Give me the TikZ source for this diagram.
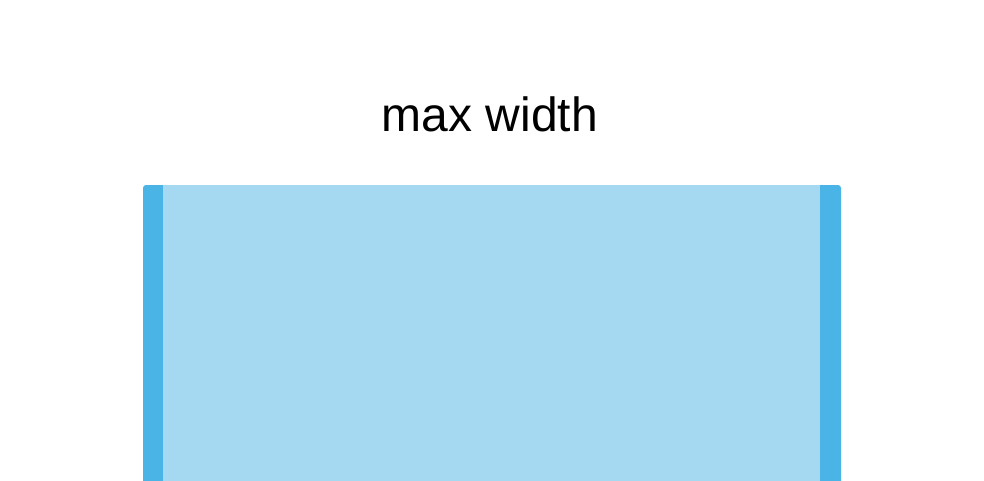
\documentclass[tikz,border=0pt]{standalone}
\usepackage{fontspec}
\setmainfont{Liberation Sans}
\definecolor{stripblue}{HTML}{4BB4E6}
\definecolor{fillblue}{HTML}{A5D9F1}
\begin{document}
\begin{tikzpicture}[x=1pt,y=1pt,
  titletext/.style={font=\fontsize{48}{58}\selectfont, text=black, inner sep=0pt, anchor=base}]
\useasboundingbox (0,0) rectangle (984,480);
\node[titletext] (title) at (490,348) {max width};
\begin{scope}
\clip (0,0) rectangle (984,480);
\fill[stripblue, rounded corners=3pt] (143,-20) -- (143,295) -- (841,295) -- (841,-20) -- cycle;
\fill[fillblue] (163,-20) rectangle (820,295);
\end{scope}
\end{tikzpicture}
\end{document}
